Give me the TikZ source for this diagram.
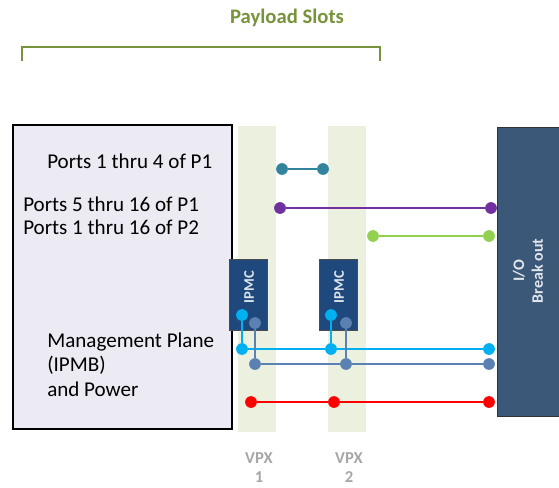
\documentclass[tikz,border=0pt]{standalone}
\usepackage{fontspec}
\setmainfont{Carlito}
\begin{document}
\begin{tikzpicture}[x=0.75pt,y=-0.75pt,
  ipmcbox/.style={fill=ipmcblue,draw=black!70,line width=0.6pt,minimum width=28.5pt,minimum height=53.25pt,inner sep=0pt,anchor=north west},
  ipmctext/.style={rotate=90,text=white!85!ipmcblue,font=\fontsize{11}{13}\selectfont\bfseries},
  dot/.style={circle,inner sep=0pt,minimum size=8.8pt},
  wire/.style={line width=1.3pt},
  lbl/.style={font=\fontsize{15.8}{18}\selectfont,anchor=base west,inner sep=0pt},
  vpx/.style={font=\fontsize{12.5}{14}\selectfont\bfseries,text=vpxgray,anchor=base,inner sep=0pt}]
\definecolor{titlegreen}{HTML}{77933C}
\definecolor{slotgreen}{HTML}{EBF1DE}
\definecolor{boxfill}{HTML}{ECEAF2}
\definecolor{ipmcblue}{HTML}{1F497D}
\definecolor{iofill}{HTML}{3B5878}
\definecolor{cteal}{HTML}{31849B}
\definecolor{cpurple}{HTML}{7030A0}
\definecolor{clime}{HTML}{92D050}
\definecolor{ccyan}{HTML}{00B0F0}
\definecolor{csteel}{HTML}{5B80B2}
\definecolor{cred}{HTML}{FF0000}
\definecolor{vpxgray}{HTML}{A6A6A6}
\useasboundingbox (0,0) rectangle (559,487);

% title and bracket
\node[font=\fontsize{15.5}{18}\selectfont\bfseries,text=titlegreen] (title) at (287,18) {Payload Slots};
\draw[titlegreen,line width=1pt] (22,61) -- (22,47) -- (380,47) -- (380,61);

% slot bars
\fill[slotgreen] (238,126) rectangle (276,432);
\fill[slotgreen] (328,126) rectangle (366,432);

% module on the left
\node[draw=black,line width=1.3pt,fill=boxfill,minimum width=164.25pt,minimum height=228pt,inner sep=0pt,anchor=north west] (card) at (12,124) {};

\node[lbl] (p1a) at (47,168) {Ports 1 thru 4 of P1};
\node[lbl] (p1b) at (23,211) {Ports 5 thru 16 of P1};
\node[lbl] (p2)  at (23,234) {Ports 1 thru 16 of P2};
\node[lbl] (mg1) at (47,347) {Management Plane};
\node[lbl] (mg2) at (47,371.5) {(IPMB)};
\node[lbl] (mg3) at (47,396) {and Power};

% I/O breakout box
\node[draw=black!80,line width=0.8pt,fill=iofill,minimum width=48pt,minimum height=216.75pt,inner sep=0pt,anchor=north west] (io) at (497,127) {};
\node[rotate=90,text=white!85!iofill,font=\fontsize{12}{14}\selectfont\bfseries,align=center] (iotxt) at (528,271) {I/O\\Break out};

% IPMC boxes
\node[ipmcbox] (ipmc1) at (229,259) {};
\node[ipmcbox] (ipmc2) at (319,259) {};
\node[ipmctext] (t1) at (249,287) {IPMC};
\node[ipmctext] (t2) at (339,287) {IPMC};

% connection points
\node[dot,fill=cteal] (ta) at (282,169) {};
\node[dot,fill=cteal] (tb) at (323,169) {};
\node[dot,fill=cpurple] (pa) at (280,208) {};
\node[dot,fill=cpurple] (pb) at (491,208) {};
\node[dot,fill=clime] (ga) at (373,236) {};
\node[dot,fill=clime] (gb) at (489,236) {};

\node[dot,fill=ccyan] (c1t) at (242,315) {};
\node[dot,fill=ccyan] (c1b) at (242,349) {};
\node[dot,fill=ccyan] (c2t) at (331,315) {};
\node[dot,fill=ccyan] (c2b) at (331,349) {};
\node[dot,fill=ccyan] (ce) at (489,349) {};

\node[dot,fill=csteel] (s1t) at (255,323) {};
\node[dot,fill=csteel] (s1b) at (255,364) {};
\node[dot,fill=csteel] (s2t) at (346,323) {};
\node[dot,fill=csteel] (s2b) at (346,364) {};
\node[dot,fill=csteel] (se) at (489,364) {};

\node[dot,fill=cred] (r1) at (251,402) {};
\node[dot,fill=cred] (r2) at (334,402) {};
\node[dot,fill=cred] (re) at (489,402) {};

% wires
\draw[wire,cteal] (ta) -- (tb);
\draw[wire,cpurple] (pa) -- (pb);
\draw[wire,clime] (ga) -- (gb);
\draw[wire,ccyan] (c1t) -- (c1b);
\draw[wire,ccyan] (c2t) -- (c2b);
\draw[wire,ccyan] (c1b) -- (c2b) -- (ce);
\draw[wire,csteel] (s1t) -- (s1b);
\draw[wire,csteel] (s2t) -- (s2b);
\draw[wire,csteel] (s1b) -- (s2b) -- (se);
\draw[wire,cred] (r1) -- (r2) -- (re);

% slot labels
\node[vpx] (v1) at (259,463) {VPX};
\node[vpx] (n1) at (259,482) {1};
\node[vpx] (v2) at (349,463) {VPX};
\node[vpx] (n2) at (349,482) {2};
\end{tikzpicture}
\end{document}
